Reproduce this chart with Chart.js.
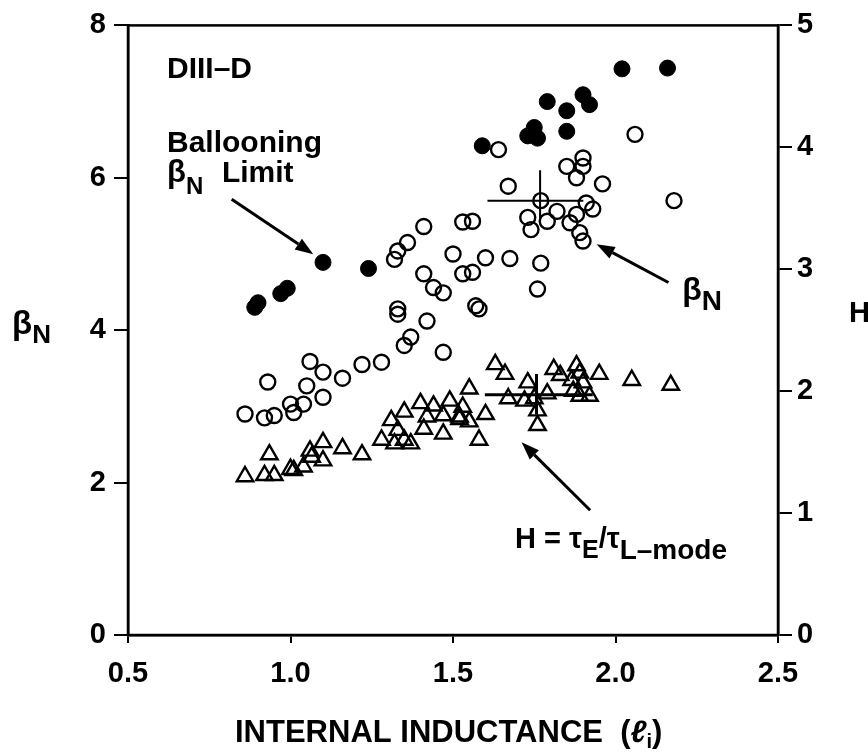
<!DOCTYPE html>
<html><head><meta charset="utf-8">
<script src="https://cdn.jsdelivr.net/npm/chart.js@4/dist/chart.umd.min.js"></script>
<style>html,body{margin:0;padding:0;background:#fff}#wrap{width:868px;height:755px}</style>
</head><body><div id="wrap"><canvas id="c" width="868" height="755"></canvas></div>
<script>
// ---- data ----
const xTicks = [0.5, 1.0, 1.5, 2.0, 2.5];
const betaTicks = [0, 2, 4, 6, 8];
const hTicks = [0, 1, 2, 3, 4, 5];

// Ballooning beta_N limit (filled circles, left axis)
const limitPoints = [
  [0.89,4.30],[0.90,4.36],[0.97,4.48],[0.99,4.55],[1.10,4.89],[1.24,4.81],
  [1.59,6.42],[1.73,6.55],[1.75,6.66],[1.76,6.52],[1.79,7.00],[1.85,6.88],
  [1.85,6.61],[1.90,7.09],[1.92,6.96],[2.02,7.43],[2.16,7.44]
];
// Achieved beta_N (open circles, left axis)
const betaPoints = [
  [0.86,2.90],[0.92,2.85],[0.95,2.88],[0.93,3.32],[1.00,3.03],[1.01,2.92],
  [1.04,3.03],[1.05,3.27],[1.06,3.59],[1.10,3.45],[1.10,3.12],[1.16,3.37],
  [1.22,3.55],[1.28,3.58],[1.32,4.93],[1.33,5.04],[1.36,5.15],[1.41,5.36],
  [1.33,4.28],[1.33,4.21],[1.42,4.12],[1.37,3.91],[1.35,3.80],[1.47,3.71],
  [1.41,4.74],[1.44,4.56],[1.47,4.49],[1.50,5.00],[1.53,5.42],[1.56,5.43],
  [1.53,4.74],[1.56,4.76],[1.57,4.32],[1.58,4.28],[1.60,4.95],[1.64,6.37],
  [1.67,5.89],[1.675,4.94],[1.73,5.48],[1.74,5.32],[1.77,5.70],[1.77,4.88],
  [1.76,4.54],[1.79,5.43],[1.82,5.56],[1.85,6.15],[1.86,5.41],[1.88,5.52],
  [1.88,6.00],[1.89,5.28],[1.90,5.17],[1.90,6.26],[1.90,6.15],[1.91,5.67],
  [1.93,5.59],[1.96,5.92],[2.06,6.57],[2.18,5.70]
];
// H = tauE / tauL-mode (open triangles, right axis)
const hPoints = [
  [0.86,1.30],[0.92,1.31],[0.95,1.31],[0.935,1.48],[1.00,1.36],[1.01,1.35],
  [1.04,1.38],[1.06,1.51],[1.065,1.46],[1.10,1.58],[1.10,1.43],[1.16,1.53],
  [1.22,1.48],[1.28,1.60],[1.31,1.76],[1.33,1.68],[1.32,1.57],[1.35,1.60],
  [1.37,1.57],[1.35,1.83],[1.40,1.90],[1.44,1.88],[1.49,1.92],[1.42,1.79],
  [1.47,1.80],[1.41,1.69],[1.47,1.65],[1.52,1.77],[1.63,2.22],[1.66,2.14],
  [1.55,2.02],[1.53,1.87],[1.52,1.79],[1.55,1.75],[1.60,1.81],[1.58,1.60],
  [1.73,2.07],[1.67,1.94],[1.72,1.92],[1.75,1.94],[1.76,1.84],[1.76,1.72],
  [1.79,1.98],[1.81,2.18],[1.83,2.13],[1.88,2.21],[1.89,2.15],[1.865,2.09],
  [1.90,2.07],[1.87,2.00],[1.89,1.96],[1.92,1.96],[1.95,2.14],[2.05,2.09],
  [2.17,2.05]
];
// representative error bars
const betaErr = {x:1.768, y:5.70, xlo:1.606, xhi:1.901, ylo:5.43, yhi:6.10};
const hErr = {x:1.757, y:1.97, xlo:1.598, xhi:1.93, ylo:1.81, yhi:2.14};

// ---- styling / annotation layout ----
const FONT = "'Liberation Sans', Arial, Helvetica, sans-serif";
const notes = [ // x, y in data units of (x, left y axis); parts drawn left to right
  {x:0.62, y:7.306, parts:[{t:'DIII–D', s:30}]},
  {x:0.62, y:6.337, parts:[{t:'Ballooning', s:30}]},
  {x:0.62, y:5.944, parts:[{t:'β', s:31},{t:'N', s:24, dy:12}]},
  {x:0.789, y:5.944, parts:[{t:'Limit', s:30}]},
  {x:2.205, y:4.39, parts:[{t:'β', s:32},{t:'N', s:28, dy:10}]},
  {x:1.691, y:1.14, parts:[{t:'H = τ', s:29},{t:'E', s:25, dy:10},{t:'/τ', s:29},{t:'L–mode', s:28, dy:11}]}
];
const arrows = [
  {from:[0.819,5.718], to:[1.070,4.998]},
  {from:[2.163,4.626], to:[1.942,5.129]},
  {from:[1.922,1.637], to:[1.711,2.531]}
];

function drawParts(ctx, parts, x, y) {
  let cx = x;
  for (const p of parts) {
    ctx.font = (p.it ? 'italic ' : '') + 'bold ' + p.s + 'px ' + FONT;
    ctx.fillText(p.t, cx, y + (p.dy || 0));
    cx += ctx.measureText(p.t).width + (p.gap || 0);
  }
}
function drawArrow(ctx, x1, y1, x2, y2) {
  const ang = Math.atan2(y2 - y1, x2 - x1), L = 18, W = 6.5;
  const bx = x2 - L * Math.cos(ang), by = y2 - L * Math.sin(ang);
  ctx.lineWidth = 3;
  ctx.beginPath(); ctx.moveTo(x1, y1); ctx.lineTo(bx, by); ctx.stroke();
  ctx.beginPath();
  ctx.moveTo(x2, y2);
  ctx.lineTo(bx + W * Math.sin(ang), by - W * Math.cos(ang));
  ctx.lineTo(bx - W * Math.sin(ang), by + W * Math.cos(ang));
  ctx.closePath(); ctx.fill();
}

const overlay = {
  id: 'overlay',
  afterDatasetsDraw(chart) {
    const ctx = chart.ctx, X = chart.scales.x, Y = chart.scales.y, Y2 = chart.scales.y2;
    const a = chart.chartArea;
    ctx.save();
    ctx.strokeStyle = '#000'; ctx.fillStyle = '#000';
    // frame
    ctx.lineWidth = 2.5;
    ctx.strokeRect(a.left, a.top, a.right - a.left, a.bottom - a.top);
    // error bars
    ctx.lineWidth = 2;
    const eb = (e, S) => {
      ctx.beginPath();
      ctx.moveTo(X.getPixelForValue(e.xlo), S.getPixelForValue(e.y));
      ctx.lineTo(X.getPixelForValue(e.xhi), S.getPixelForValue(e.y));
      ctx.moveTo(X.getPixelForValue(e.x), S.getPixelForValue(e.ylo));
      ctx.lineTo(X.getPixelForValue(e.x), S.getPixelForValue(e.yhi));
      ctx.stroke();
    };
    eb(betaErr, Y); ctx.lineWidth = 3; eb(hErr, Y2);
    // arrows
    for (const ar of arrows) {
      drawArrow(ctx, X.getPixelForValue(ar.from[0]), Y.getPixelForValue(ar.from[1]),
                     X.getPixelForValue(ar.to[0]), Y.getPixelForValue(ar.to[1]));
    }
    // text notes
    ctx.textAlign = 'left'; ctx.textBaseline = 'alphabetic';
    for (const n of notes) drawParts(ctx, n.parts, X.getPixelForValue(n.x), Y.getPixelForValue(n.y));
    // axis titles
    drawParts(ctx, [{t:'β', s:33},{t:'N', s:26, dy:9}], 12, 334);
    drawParts(ctx, [{t:'H', s:29}], 849, 322);
    drawParts(ctx, [{t:'INTERNAL INDUCTANCE  (', s:31},{t:'ℓ', s:31, it:true},{t:'i', s:20, dy:6},{t:')', s:31}], 235, 742);
    ctx.restore();
  }
};

const toXY = arr => arr.map(([x, y]) => ({x, y}));
const tickFont = {family: FONT, size: 29, weight: 'bold'};

new Chart(document.getElementById('c'), {
  type: 'scatter',
  data: {
    datasets: [
      {label:'Ballooning limit', data: toXY(limitPoints), yAxisID:'y', pointStyle:'circle',
       pointRadius:8, backgroundColor:'#000', borderColor:'#000', borderWidth:1},
      {label:'βN', data: toXY(betaPoints), yAxisID:'y', pointStyle:'circle',
       pointRadius:7.5, backgroundColor:'rgba(0,0,0,0)', borderColor:'#000', borderWidth:2.4},
      {label:'H', data: toXY(hPoints), yAxisID:'y2', pointStyle:'triangle',
       pointRadius:9.5, backgroundColor:'rgba(0,0,0,0)', borderColor:'#000', borderWidth:2.4}
    ]
  },
  options: {
    responsive:false, animation:false, devicePixelRatio:1,
    layout:{padding:{top:24, left:0, right:0, bottom:0}},
    plugins:{legend:{display:false}, tooltip:{enabled:false}},
    scales:{
      x:{type:'linear', position:'bottom', min:0.5, max:2.5,
         afterBuildTicks: s => { s.ticks = xTicks.map(v => ({value:v})); },
         afterFit: s => { s.height = 120; },
         ticks:{font:tickFont, color:'#000', padding:14, callback: v => v.toFixed(1)},
         grid:{drawOnChartArea:false, drawTicks:true, tickLength:8, color:'#000', lineWidth:2},
         border:{display:true, color:'#000', width:2.5}},
      y:{type:'linear', position:'left', min:0, max:8,
         afterBuildTicks: s => { s.ticks = betaTicks.map(v => ({value:v})); },
         afterFit: s => { s.width = 128; },
         ticks:{font:tickFont, color:'#000', padding:8, callback: v => String(v)},
         grid:{drawOnChartArea:false, drawTicks:true, tickLength:14, color:'#000', lineWidth:2},
         border:{display:true, color:'#000', width:2.5}},
      y2:{type:'linear', position:'right', min:0, max:5,
         afterBuildTicks: s => { s.ticks = hTicks.map(v => ({value:v})); },
         afterFit: s => { s.width = 90; },
         ticks:{font:tickFont, color:'#000', padding:5, callback: v => String(v)},
         grid:{drawOnChartArea:false, drawTicks:true, tickLength:14, color:'#000', lineWidth:2},
         border:{display:true, color:'#000', width:2.5}}
    }
  },
  plugins:[overlay]
});
</script>
</body></html>
